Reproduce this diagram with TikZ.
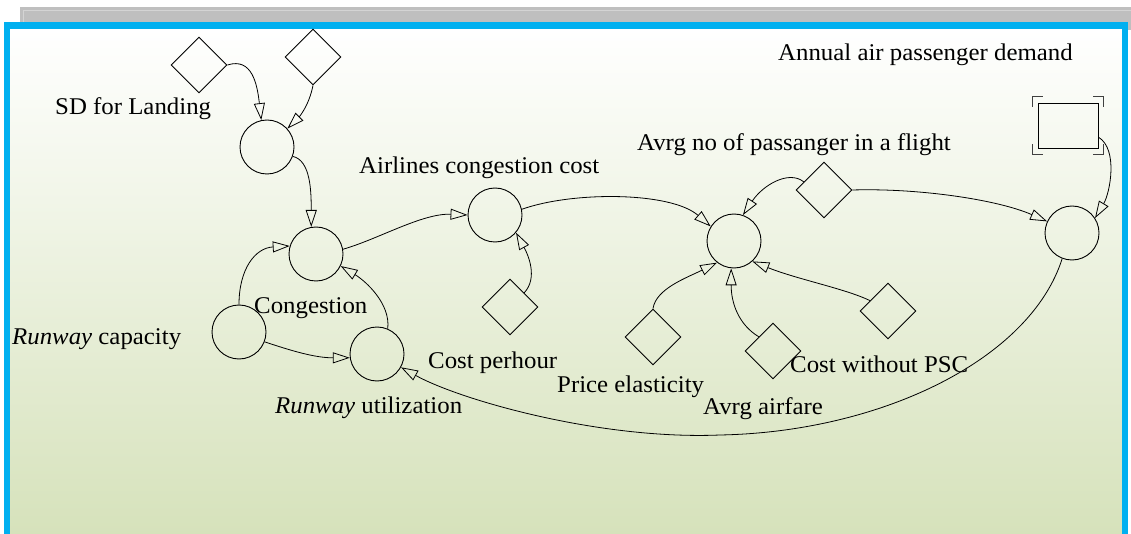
\documentclass[tikz,border=0pt]{standalone}
\usepackage{fontspec}
\setmainfont[FakeStretch=1.035]{Liberation Serif}
\usetikzlibrary{shapes.geometric,arrows.meta}
\definecolor{framecol}{HTML}{00B0F0}
\definecolor{greenbot}{HTML}{D6E2BB}
\definecolor{barcol}{HTML}{BFBFBF}
\definecolor{barlight}{HTML}{D4D4D4}
\begin{document}
\begin{tikzpicture}[x=1pt,y=-1pt,
  aux/.style={circle,draw,line width=0.9pt,minimum size=54pt,inner sep=0pt},
  const/.style={diamond,draw,line width=0.9pt,minimum size=56pt,inner sep=0pt},
  level/.style={rectangle,draw,line width=0.9pt,minimum width=60pt,minimum height=45pt,inner sep=0pt},
  lbl/.style={anchor=base west,inner sep=0pt,font=\fontsize{24}{28}\selectfont},
  link/.style={line width=0.8pt,-{Triangle[open,length=17pt,width=11pt]}},
  bracket/.style={line width=0.9pt,black!75},
]
\useasboundingbox (0,0) rectangle (1131,534);

% window bar and frame
\fill[barcol] (20,7) rectangle (1135,30);
\draw[barlight,line width=1pt] (23,10.5) -- (1135,10.5);
\draw[barlight,line width=1pt] (23.5,10) -- (23.5,30);
\shade[top color=white,bottom color=greenbot] (10,29) rectangle (1122,534);
\draw[framecol,line width=6.5pt] (7,545) -- (7,25.5) -- (1125,25.5) -- (1125,545);

% model elements
\node[const] (d1) at (199,65) {};
\node[const] (d2) at (313,57) {};
\node[aux]   (c1) at (267,147) {};
\node[aux]   (c2) at (316,254) {};
\node[aux]   (c3) at (239,332) {};
\node[aux]   (c4) at (377,354) {};
\node[aux]   (c5) at (495,215) {};
\node[const] (d3) at (510,307) {};
\node[aux]   (c6) at (734,241) {};
\node[const] (d4) at (653,337) {};
\node[const] (d5) at (773,351) {};
\node[const] (d6) at (888,311) {};
\node[const] (d7) at (824,190) {};
\node[aux]   (c7) at (1072,233) {};
\node[level] (box) at (1068,125.5) {};

% corner marks of the level
\draw[bracket] ([shift={(-5,4)}]box.north west) -- ++(0,-10) -- ++(10,0);
\draw[bracket] ([shift={(5,4)}]box.north east) -- ++(0,-10) -- ++(-10,0);
\draw[bracket] ([shift={(-5,-4)}]box.south west) -- ++(0,10) -- ++(10,0);
\draw[bracket] ([shift={(5,-4)}]box.south east) -- ++(0,10) -- ++(-10,0);

% labels
\node[lbl] (t1) at (55,115) {SD for Landing};
\node[lbl] (t2) at (778,61) {Annual air passenger demand};
\node[lbl] (t3) at (637,151) {Avrg no of passanger in a flight};
\node[lbl] (t4) at (359,174) {Airlines congestion cost};
\node[lbl] (t5) at (254,313) {Congestion};
\node[lbl] (t6) at (12,344) {\textit{Runway} capacity};
\node[lbl] (t7) at (275,413) {\textit{Runway} utilization};
\node[lbl] (t8) at (428,368) {Cost perhour};
\node[lbl] (t9) at (557,392) {Price elasticity};
\node[lbl] (t10) at (790,372) {Cost without PSC};
\node[lbl] (t11) at (703,414) {Avrg airfare};

% causal links
\draw[link] (d1.east) .. controls +(25,-8) and +(-4,-35) .. (c1.102);
\draw[link] (d2.south) .. controls +(-4,20) and +(12,-12) .. (c1.42);
\draw[link] (c1.-20) .. controls +(18,4) and +(0,-35) .. (c2.100);
\draw[link] (c3.north) .. controls +(0,-35) and +(-35,2) .. (c2.163);
\draw[link] (c3.-21) .. controls +(27,9) and +(-35,0) .. (c4.188);
\draw[link] (c4.67) .. controls +(3,-25) and +(25,15) .. (c2.-26);
\draw[link] (c2.10) .. controls +(35,-10) and +(-45,-2) .. (c5.180);
\draw[link] (d3.north east) .. controls +(14,-15) and +(12,22) .. (c5.-40);
\draw[link] (c5.12) .. controls +(50,-18) and +(-40,-35) .. (c6.148);
\draw[link] (d7.158) .. controls +(-15,-12) and +(20,-30) .. (c6.71);
\draw[link] (d7.east) .. controls +(65,-2) and +(-50,-22) .. (c7.155);
\draw[link] (box.-21) .. controls +(20,12) and +(15,-25) .. (c7.33);
\draw[link] (d4.north) .. controls +(3,-20) and +(-30,15) .. (c6.232);
\draw[link] (d5.north west) .. controls +(-20,-12) and +(0,35) .. (c6.264);
\draw[link] (d6.150) .. controls +(-25,-12) and +(45,18) .. (c6.-48);
\draw[link] (c7.249) .. controls (1030,360) and (880,432) .. (720,435)
            .. controls (600,440) and (460,400) .. (c4.-29);
\end{tikzpicture}
\end{document}
